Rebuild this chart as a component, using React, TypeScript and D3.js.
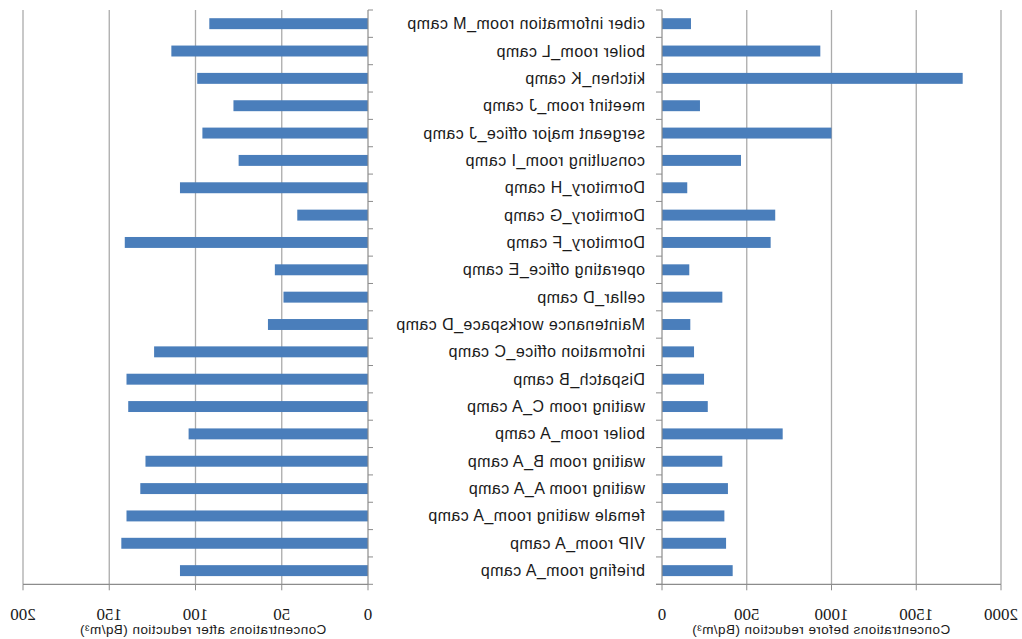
import React from "react";
import * as d3 from "d3";

const categories = [
  "ciber information room_M camp",
  "boiler room_L camp",
  "kitchen_K camp",
  "meetinf room_J camp",
  "sergeant major office_J camp",
  "consulting room_I camp",
  "Dormitory_H camp",
  "Dormitory_G camp",
  "Dormitory_F camp",
  "operating office_E camp",
  "cellar_D camp",
  "Maintenance workspace_D camp",
  "information office_C camp",
  "Dispatch_B camp",
  "waiting room C_A camp",
  "boiler room_A camp",
  "waiting room B_A camp",
  "waiting room A_A camp",
  "female waiting room_A camp",
  "VIP room_A camp",
  "briefing room_A camp",
];

const beforeValues = [171, 934, 1774, 224, 1000, 466, 149, 668, 641, 161, 356, 167, 189, 248, 270, 712, 356, 389, 368, 378, 417];
const afterValues = [92, 114, 99, 78, 96, 75, 109, 41, 141, 54, 49, 58, 124, 140, 139, 104, 129, 132, 140, 143, 109];

const afterTicks = [0, 50, 100, 150, 200];
const beforeTicks = [0, 500, 1000, 1500, 2000];

const afterTitle = "Concentrations after reduction (Bq/m\u00B3)";
const beforeTitle = "Concentrations before reduction (Bq/m\u00B3)";

const W = 1022;
const H = 639;
const TOP = 10;
const BOTTOM = 584.3;
const BAR = "#4a7ebb";
const GRID = "#ababab";
const AXIS = "#8c8c8c";
const SANS = "'Liberation Sans', Arial, sans-serif";
const SERIF = "'Liberation Serif', 'Times New Roman', serif";

// mirrored text helper: the whole reference is flipped horizontally
function MText({ x, y, anchor, size, family, spacing, children, fill = "#1a1a1a" }: any) {
  return (
    <text
      transform={`translate(${x},${y}) scale(-1,1)`}
      textAnchor={anchor}
      fontSize={size}
      fontFamily={family}
      letterSpacing={spacing}
      fill={fill}
    >
      {children}
    </text>
  );
}

export default function App() {
  const y = d3.scaleBand<string>().domain(categories).range([TOP, BOTTOM]).paddingInner(0).paddingOuter(0);
  const step = y.step();
  const barH = step * 0.4;
  const barOff = step * 0.3;

  const xL = d3.scaleLinear().domain([0, 200]).range([368, 23]);
  const xR = d3.scaleLinear().domain([0, 2000]).range([662, 1001]);

  const boundaries = d3.range(categories.length + 1).map((i) => TOP + i * step);

  return (
    <svg width={W} height={H} style={{ position: "absolute", left: 0, top: 0, background: "#fff" }}>
      <rect x={0} y={0} width={W} height={H} fill="#fff" />
      {/* Left panel: after reduction */}
      <g>
        {afterTicks.filter((t) => t > 0).map((t) => (
          <line key={"gl" + t} x1={xL(t)} x2={xL(t)} y1={TOP} y2={BOTTOM} stroke={GRID} strokeWidth={1.3} />
        ))}
        {afterValues.map((v, i) => (
          <rect
            key={"ba" + i}
            x={xL(v)}
            y={(y(categories[i]) as number) + barOff}
            width={xL(0) - xL(v)}
            height={barH}
            fill={BAR}
          />
        ))}
        <line x1={xL(0)} x2={xL(0)} y1={TOP} y2={BOTTOM} stroke={AXIS} strokeWidth={1.2} />
        {boundaries.map((b, i) => (
          <line key={"lt" + i} x1={xL(0)} x2={xL(0) + 5} y1={b} y2={b} stroke={AXIS} strokeWidth={1} />
        ))}
        <line x1={xL(200)} x2={xL(0)} y1={BOTTOM} y2={BOTTOM} stroke={AXIS} strokeWidth={1.2} />
        {afterTicks.map((t) => (
          <g key={"la" + t}>
            <line x1={xL(t)} x2={xL(t)} y1={BOTTOM} y2={BOTTOM + 6} stroke={AXIS} strokeWidth={1} />
            <MText x={xL(t)} y={620} anchor="middle" size={17} family={SERIF}>
              {d3.format("d")(t)}
            </MText>
          </g>
        ))}
        <MText x={203} y={634} anchor="middle" size={13.5} family={SANS} spacing={0.45}>
          {afterTitle}
        </MText>
      </g>

      {/* Right panel: before reduction */}
      <g>
        {beforeTicks.filter((t) => t > 0).map((t) => (
          <line key={"gr" + t} x1={xR(t)} x2={xR(t)} y1={TOP} y2={BOTTOM} stroke={GRID} strokeWidth={1.3} />
        ))}
        {beforeValues.map((v, i) => (
          <rect
            key={"bb" + i}
            x={xR(0)}
            y={(y(categories[i]) as number) + barOff}
            width={xR(v) - xR(0)}
            height={barH}
            fill={BAR}
          />
        ))}
        <line x1={xR(0)} x2={xR(0)} y1={TOP} y2={BOTTOM} stroke={AXIS} strokeWidth={1.2} />
        {boundaries.map((b, i) => (
          <line key={"rt" + i} x1={xR(0) - 6} x2={xR(0)} y1={b} y2={b} stroke={AXIS} strokeWidth={1} />
        ))}
        <line x1={xR(0) - 6} x2={xR(2000)} y1={BOTTOM} y2={BOTTOM} stroke={AXIS} strokeWidth={1.2} />
        {beforeTicks.map((t) => (
          <g key={"ra" + t}>
            <line x1={xR(t)} x2={xR(t)} y1={BOTTOM} y2={BOTTOM + 6} stroke={AXIS} strokeWidth={1} />
            <MText x={xR(t)} y={620} anchor="middle" size={17} family={SERIF}>
              {d3.format("d")(t)}
            </MText>
          </g>
        ))}
        <MText x={821} y={634} anchor="middle" size={13.5} family={SANS} spacing={0.45}>
          {beforeTitle}
        </MText>
      </g>

      {/* Category labels (mirrored, right edge at x=645) */}
      {categories.map((c) => (
        <MText
          key={"c" + c}
          x={645}
          y={(y(c) as number) + step / 2 + 5.5}
          anchor="start"
          size={16}
          family={SANS}
          spacing={0.45}
        >
          {c}
        </MText>
      ))}
    </svg>
  );
}
